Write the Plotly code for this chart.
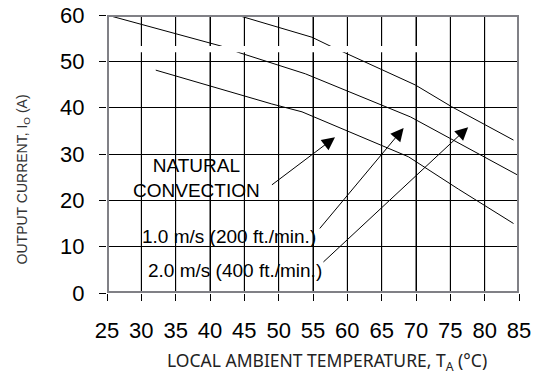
import plotly.graph_objects as go

# Derating curves: output current vs. local ambient temperature
nat_t = [32.1, 49.0, 53.4, 68.9, 76.2, 84.2]
nat_i = [48.1, 40.8, 39.1, 29.4, 22.4, 15.0]

v1_t = [25.0, 41.6, 44.2, 49.0, 53.9, 69.2, 85.0]
v1_i = [60.0, 53.3, 51.9, 49.6, 47.3, 38.0, 25.3]

v2_t = [43.9, 54.85, 57.5, 59.6, 69.9, 75.2, 84.2]
v2_i = [60.0, 55.2, 53.3, 51.9, 44.9, 40.2, 33.0]

x_ticks = [25, 30, 35, 40, 45, 50, 55, 60, 65, 70, 75, 80, 85]
y_ticks = [0, 10, 20, 30, 40, 50, 60]

# Label texts with the curve points their arrows run between
labels = ["NATURAL<br>CONVECTION", "1.0 m/s (200 ft./min.)", "2.0 m/s (400 ft./min.)"]
label_pos = [(38.0, 24.8), (42.8, 12.1), (43.6, 4.75)]
arrow_tail = [(48.8, 23.1), (55.8, 13.6), (56.3, 6.4)]
arrow_tip = [(58.2, 33.6), (68.2, 35.6), (77.6, 35.8)]

TICK_FONT = dict(family="Liberation Sans, Arial, sans-serif", size=22, color="black")
NOTE_FONT = dict(family="Liberation Sans, Arial, sans-serif", size=19, color="black")
YTITLE_FONT = dict(family="Liberation Sans, Arial, sans-serif", size=14, color="#333333")
XTITLE_FONT = dict(family="Noto Sans, sans-serif", size=17.5, color="#222222")

x0, x1 = x_ticks[0], x_ticks[-1]
y0, y1 = y_ticks[0], y_ticks[-1]

fig = go.Figure()

# vertical grid lines, one path through every x tick
gx, gy = [], []
for v in x_ticks:
    gx += [v, v, None]
    gy += [y0, y1, None]
fig.add_trace(go.Scatter(x=gx, y=gy, mode="lines", line=dict(color="black", width=1),
                         showlegend=False))

for t, i in [(nat_t, nat_i), (v1_t, v1_i), (v2_t, v2_i)]:
    fig.add_trace(go.Scatter(x=t, y=i, mode="lines",
                             line=dict(color="black", width=1), showlegend=False))

# grey frame round the plot area
fig.add_trace(go.Scatter(x=[x0, x1, x1, x0, x0], y=[y0, y0, y1, y1, y0], mode="lines",
                         line=dict(color="rgb(128,128,134)", width=4), showlegend=False))

annotations = []
for txt, (lx, ly) in zip(labels, label_pos):
    annotations.append(dict(x=lx, y=ly, xref="x", yref="y", text=txt,
                            showarrow=False, font=NOTE_FONT, align="center"))
for (tx, ty), (hx, hy) in zip(arrow_tail, arrow_tip):
    annotations.append(dict(x=hx, y=hy, ax=tx, ay=ty, xref="x", yref="y",
                            axref="x", ayref="y", text="", showarrow=True,
                            arrowhead=2, arrowsize=2.6, arrowwidth=1,
                            arrowcolor="black"))

annotations.append(dict(x=0.535, y=-0.245, xref="paper", yref="paper",
                        xanchor="center", yanchor="middle",
                        text="LOCAL AMBIENT TEMPERATURE, T<sub>A</sub> (°C)",
                        showarrow=False, font=XTITLE_FONT))
annotations.append(dict(x=-0.203, y=0.41, xref="paper", yref="paper",
                        xanchor="center", yanchor="middle",
                        text="OUTPUT CURRENT, I<sub>O</sub> (A)", textangle=-90,
                        showarrow=False, font=YTITLE_FONT))

shapes = [
    # white strip breaking the grid near the top of the chart
    dict(type="rect", xref="x", yref="y", x0=27.5, x1=72.5, y0=51.95, y1=53.3,
         fillcolor="white", line=dict(width=0), layer="above"),
]

fig.update_layout(
    width=544, height=378,
    margin=dict(l=107, r=25, t=15, b=85, autoexpand=False),
    paper_bgcolor="white", plot_bgcolor="white",
    annotations=annotations, shapes=shapes,
    xaxis=dict(range=[x0, x1], tickvals=x_ticks, automargin=False,
               showgrid=True, gridcolor="black", gridwidth=1,
               ticks="outside", ticklen=7, tickcolor="black",
               tickfont=TICK_FONT, ticklabelstandoff=11,
               showline=False, zeroline=False),
    yaxis=dict(range=[y0, y1], tickvals=y_ticks, automargin=False,
               showgrid=True, gridcolor="black", gridwidth=1,
               ticks="outside", ticklen=7, tickcolor="black",
               tickfont=TICK_FONT, ticklabelstandoff=10,
               showline=False, zeroline=False),
)

fig.write_html("out.html")
